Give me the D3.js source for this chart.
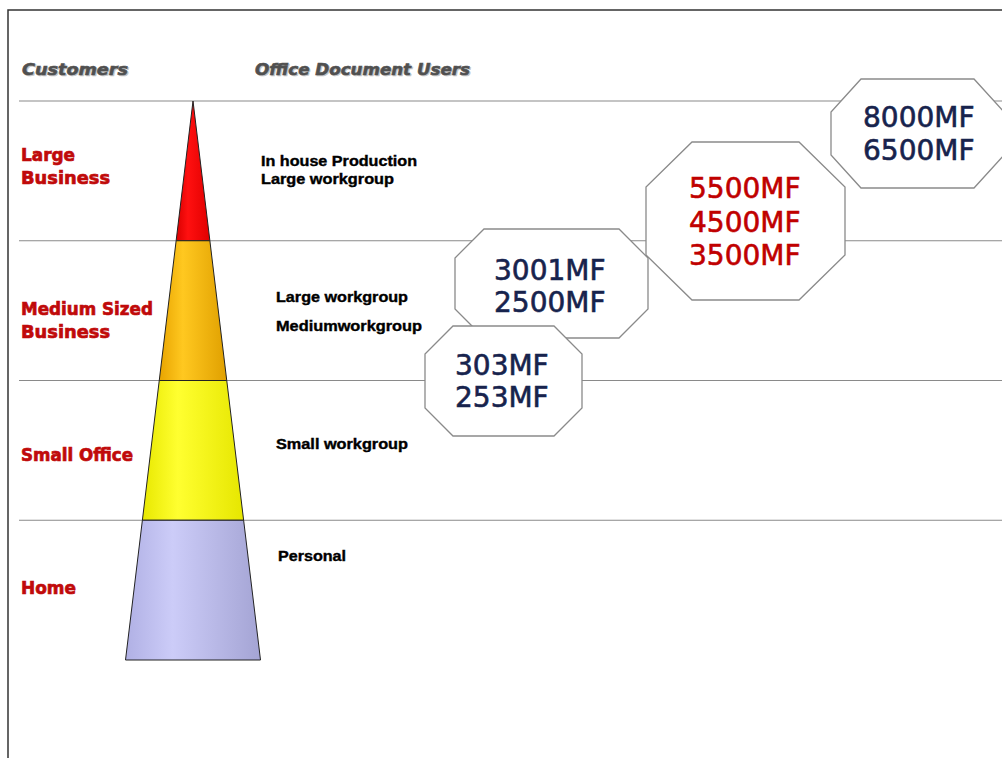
<!DOCTYPE html>
<html>
<head>
<meta charset="utf-8">
<script src="https://cdn.jsdelivr.net/npm/d3@7"></script>
<style>
  html, body { margin: 0; padding: 0; background: #fff; }
  svg { display: block; }
</style>
</head>
<body>
<div id="chart"></div>
<script>
// tiers of the pyramid, top to bottom
const tiers = ["Large Business", "Medium Sized Business", "Small Office", "Home"];
const tierLabels = [["Large", "Business"], ["Medium Sized", "Business"], ["Small Office"], ["Home"]];
const tierColors = [
  ["#d80000", "#ff1010", "#e00000"],
  ["#e8a400", "#ffc820", "#e0a000"],
  ["#e8e800", "#ffff30", "#e6e600"],
  ["#b0b0e4", "#ccccf8", "#a4a4d4"]
];
const userLabels = [
  ["In house  Production", "Large workgroup"],
  ["Large workgroup", "Mediumworkgroup"],
  ["Small workgroup"],
  ["Personal"]
];
// product groups (models in each box)
const models = [
  ["303MF", "253MF"],
  ["3001MF", "2500MF"],
  ["5500MF", "4500MF", "3500MF"],
  ["8000MF", "6500MF"]
];
const modelColors = ["#17234d", "#17234d", "#c00000", "#17234d"];
const headers = ["Customers", "Office Document Users"];

const W = 1002, H = 758;
const svg = d3.select("#chart").append("svg").attr("width", W).attr("height", H)
  .style("font-family", "'Liberation Sans', Arial, sans-serif");

// scales
const y = d3.scaleLinear().domain([0, tiers.length]).range([101, 660]);
const halfW = d3.scaleLinear().domain([0, tiers.length]).range([0, 67.5]);
const apexX = 193;

// gradients
const defs = svg.append("defs");
tierColors.forEach((c, i) => {
  const g = defs.append("linearGradient").attr("id", "grad" + i)
    .attr("x1", "0%").attr("x2", "100%").attr("y1", "0%").attr("y2", "0%");
  g.append("stop").attr("offset", "0%").attr("stop-color", c[0]);
  g.append("stop").attr("offset", "35%").attr("stop-color", c[1]);
  g.append("stop").attr("offset", "100%").attr("stop-color", c[2]);
});

// frame
svg.append("path").attr("d", `M8,${H} L8,10 L${W},10`)
  .attr("fill", "none").attr("stroke", "#333").attr("stroke-width", 1.5);

// headers
const headerX = [22, 255], headerLen = [106, 215];
headers.forEach((h, i) => {
  [["#c4c4c4", 1.2], ["#505050", 0]].forEach(([col, off]) => {
    svg.append("text")
      .attr("x", headerX[i] + off).attr("y", 75 + off)
      .attr("font-size", 16).attr("font-weight", "bold").attr("font-style", "italic")
      .attr("font-family", "'DejaVu Sans', sans-serif")
      .attr("textLength", headerLen[i]).attr("lengthAdjust", "spacingAndGlyphs")
      .attr("fill", col).attr("stroke", col).attr("stroke-width", 0.6).text(h);
  });
});

// horizontal separators
svg.selectAll("line.sep").data(d3.range(tiers.length))
  .join("line").attr("class", "sep")
  .attr("x1", 19).attr("x2", W)
  .attr("y1", d => y(d)).attr("y2", d => y(d))
  .attr("stroke", "#8a8a8a").attr("stroke-width", 1.2);

// pyramid segments
svg.selectAll("path.seg").data(tiers)
  .join("path").attr("class", "seg")
  .attr("d", (d, i) => {
    const t = y(i), b = y(i + 1);
    return `M${apexX - halfW(i)},${t} L${apexX + halfW(i)},${t} L${apexX + halfW(i + 1)},${b} L${apexX - halfW(i + 1)},${b} Z`;
  })
  .attr("fill", (d, i) => `url(#grad${i})`)
  .attr("stroke", "#222").attr("stroke-width", 1).attr("stroke-linejoin", "round");

// customer labels (red)
const labelBase = [161, 315, 461, 594];
const labelLen = {"Large": 54, "Business": 89, "Medium Sized": 132, "Small Office": 112, "Home": 55};
tierLabels.forEach((lines, i) => {
  lines.forEach((t, j) => {
    svg.append("text")
      .attr("x", 21).attr("y", labelBase[i] + j * 23)
      .attr("font-family", "'DejaVu Sans', sans-serif")
      .attr("font-size", 18).attr("font-weight", "bold")
      .attr("textLength", labelLen[t]).attr("lengthAdjust", "spacingAndGlyphs")
      .attr("fill", "#c00a0a").attr("stroke", "#c00a0a").attr("stroke-width", 0.7).text(t);
  });
});

// document user labels
const userPos = [
  [[261, 166, 156], [261, 184, 133]],
  [[276, 302, 132], [276, 331, 146]],
  [[276, 449, 132]],
  [[278, 561, 68]]
];
userLabels.forEach((lines, i) => {
  lines.forEach((t, j) => {
    const p = userPos[i][j];
    svg.append("text")
      .attr("x", p[0]).attr("y", p[1])
      .attr("font-size", 15).attr("font-weight", "bold")
      .attr("textLength", p[2]).attr("lengthAdjust", "spacingAndGlyphs")
      .attr("fill", "#000").attr("stroke", "#000").attr("stroke-width", 0.4).text(t);
  });
});

// product octagons: [x0, y0, x1, y1, cutX, cutY, textX, firstBaseline, lineStep]
const boxes = [
  [455, 229, 648, 338, 29, 29, 494, 280, 32],   // 3001/2500
  [425, 326, 582, 436, 28, 28, 455, 375, 32],   // 303/253
  [646, 142, 845, 300, 46, 45, 689, 198, 33.5], // 5500/4500/3500
  [831, 79, 1004, 188, 30, 33, 863, 127, 33]    // 8000/6500
];
const boxModel = [1, 0, 2, 3];

boxes.forEach((b, k) => {
  const [x0, y0, x1, y1, cx, cy, tx, ty, step] = b;
  const pts = [[x0 + cx, y0], [x1 - cx, y0], [x1, y0 + cy], [x1, y1 - cy],
               [x1 - cx, y1], [x0 + cx, y1], [x0, y1 - cy], [x0, y0 + cy]];
  svg.append("polygon")
    .attr("points", pts.map(p => p.join(",")).join(" "))
    .attr("fill", "#fff").attr("stroke", "#8a8a8a").attr("stroke-width", 1.3);
  const m = boxModel[k];
  svg.append("g").selectAll("text").data(models[m])
    .join("text")
    .attr("x", tx).attr("y", (d, j) => ty + j * step)
    .attr("font-family", "'DejaVu Sans', Verdana, sans-serif")
    .attr("font-size", 28)
    .attr("fill", modelColors[m]).attr("stroke", modelColors[m]).attr("stroke-width", 0.6)
    .text(d => d);
});
</script>
</body>
</html>
